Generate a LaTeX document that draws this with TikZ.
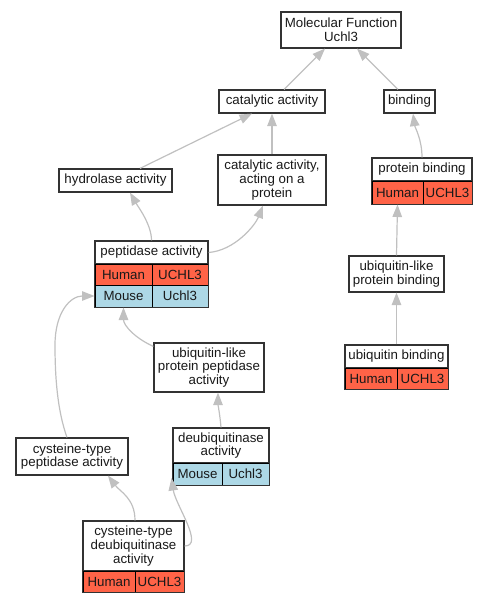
\documentclass[tikz,border=0pt]{standalone}
\usepackage{fontspec}
\setmainfont{Liberation Sans}
\usetikzlibrary{arrows.meta}
\definecolor{tomatoc}{HTML}{FF6347}
\definecolor{lblue}{HTML}{ADD8E6}
\definecolor{edgec}{HTML}{C0C0C0}
\definecolor{boxline}{HTML}{333333}
\tikzset{
  termbox/.style={draw=boxline, line width=1.2pt, fill=white, inner sep=0pt, align=center,
    font=\fontsize{13.3}{13.6}\selectfont, text=black!90},
  cellbase/.style={draw=black, line width=1pt, inner sep=0pt, align=center,
    font=\fontsize{13.3}{13.6}\selectfont, text=black!90},
  humancell/.style={cellbase, fill=tomatoc},
  mousecell/.style={cellbase, fill=lblue},
  outline/.style={draw=boxline, line width=1.2pt},
  isa/.style={draw=edgec, line width=1.2pt, -{Triangle[length=12.5pt,width=9.5pt]}},
}
\begin{document}
\begin{tikzpicture}[x=1pt,y=-1pt]
\useasboundingbox (0,0) rectangle (487,603);

% plain terms
\node[termbox, minimum width=120pt, minimum height=36pt] (mf) at (341,30) {Molecular Function\\Uchl3};
\node[termbox, minimum width=106pt, minimum height=23pt] (cat) at (272,101.5) {catalytic activity};
\node[termbox, minimum width=51pt, minimum height=23pt] (bind) at (409.5,101.5) {binding};
\node[termbox, minimum width=113pt, minimum height=23pt] (hyd) at (115.5,180.5) {hydrolase activity};
\node[termbox, minimum width=108pt, minimum height=50pt] (catp) at (272,180) {catalytic activity,\\acting on a\\protein};
\node[termbox, minimum width=95pt, minimum height=36pt] (ulpb) at (396.5,274) {ubiquitin-like\\protein binding};
\node[termbox, minimum width=110pt, minimum height=49pt] (ulpp) at (209,367.5) {ubiquitin-like\\protein peptidase\\activity};
\node[termbox, minimum width=112pt, minimum height=37pt] (ctp) at (72,456.5) {cysteine-type\\peptidase activity};

% protein binding table
\node[termbox, minimum width=100pt, minimum height=23pt] (pb) at (422,169.5) {protein binding};
\node[humancell, minimum width=51pt, minimum height=23pt] (pbH1) at (397.5,192.5) {Human};
\node[humancell, minimum width=49pt, minimum height=23pt] (pbH2) at (447.5,192.5) {UCHL3};
\draw[outline] (pb.north west) rectangle (pbH2.south east);

% peptidase activity table
\node[termbox, minimum width=113pt, minimum height=23pt] (pep) at (151.5,252.5) {peptidase activity};
\node[humancell, minimum width=57pt, minimum height=21pt] (pepH1) at (123.5,274.5) {Human};
\node[humancell, minimum width=56pt, minimum height=21pt] (pepH2) at (180,274.5) {UCHL3};
\node[mousecell, minimum width=57pt, minimum height=22pt] (pepM1) at (123.5,296) {Mouse};
\node[mousecell, minimum width=56pt, minimum height=22pt] (pepM2) at (180,296) {Uchl3};
\draw[outline] (pep.north west) rectangle (pepM2.south east);

% ubiquitin binding table
\node[termbox, minimum width=103pt, minimum height=23pt] (ub) at (396.5,356.5) {ubiquitin binding};
\node[humancell, minimum width=52pt, minimum height=21pt] (ubH1) at (371,378.5) {Human};
\node[humancell, minimum width=51pt, minimum height=21pt] (ubH2) at (422.5,378.5) {UCHL3};
\draw[outline] (ub.north west) rectangle (ubH2.south east);

% deubiquitinase activity table
\node[termbox, minimum width=96pt, minimum height=35pt] (deub) at (221,445.5) {deubiquitinase\\activity};
\node[mousecell, minimum width=49pt, minimum height=22pt] (deubM1) at (197.5,474) {Mouse};
\node[mousecell, minimum width=47pt, minimum height=22pt] (deubM2) at (245.5,474) {Uchl3};
\draw[outline] (deub.north west) rectangle (deubM2.south east);

% cysteine-type deubiquitinase activity table
\node[termbox, minimum width=101pt, minimum height=50pt] (ctd) at (133.5,546) {cysteine-type\\deubiquitinase\\activity};
\node[humancell, minimum width=52pt, minimum height=21pt] (ctdH1) at (109,581.5) {Human};
\node[humancell, minimum width=49pt, minimum height=21pt] (ctdH2) at (159.5,581.5) {UCHL3};
\draw[outline] (ctd.north west) rectangle (ctdH2.south east);

% edges (child -> parent)
\draw[isa] ([xshift=12pt]cat.north) -- ([xshift=-16pt]mf.south);
\draw[isa] ([xshift=-11.5pt]bind.north) -- ([xshift=16pt]mf.south);
\draw[isa] ([xshift=24.5pt]hyd.north) -- ([xshift=-20pt]cat.south);
\draw[isa] (catp.north) -- (cat.south);
\draw[isa] (pb.north) .. controls +(0,-18) and +(2,14) .. ([xshift=3.5pt]bind.south);
\draw[isa] (pep.north) .. controls +(0,-16) and +(8,14) .. ([xshift=14.5pt]hyd.south);
\draw[isa] (pep.east) .. controls +(26,-2) and +(-8,20) .. ([xshift=-9pt]catp.south);
\draw[isa] (ulpb.north) -- (pbH1.south);
\draw[isa] (ub.north) -- (ulpb.south);
\draw[isa] ([yshift=-4pt]ulpp.north west) .. controls +(-18,-8) and +(0,18) .. (pepM1.south);
\draw[isa] ([xshift=-5pt]ctp.north) .. controls +(-10,-28) and +(0,30) .. (55,345)
  .. controls +(0,-33) and +(-24,0) .. (pepM1.west);
\draw[isa] (deub.north) .. controls +(-1,-12) and +(0,12) .. ([xshift=9pt]ulpp.south);
\draw[isa] ([xshift=1.5pt]ctd.north) .. controls +(0,-22) and +(12,16) .. ([xshift=36pt]ctp.south);
\draw[isa] (ctd.east) .. controls +(20,0) and +(4,27) .. ([xshift=-1pt,yshift=-4pt]deubM1.west);
\end{tikzpicture}
\end{document}
